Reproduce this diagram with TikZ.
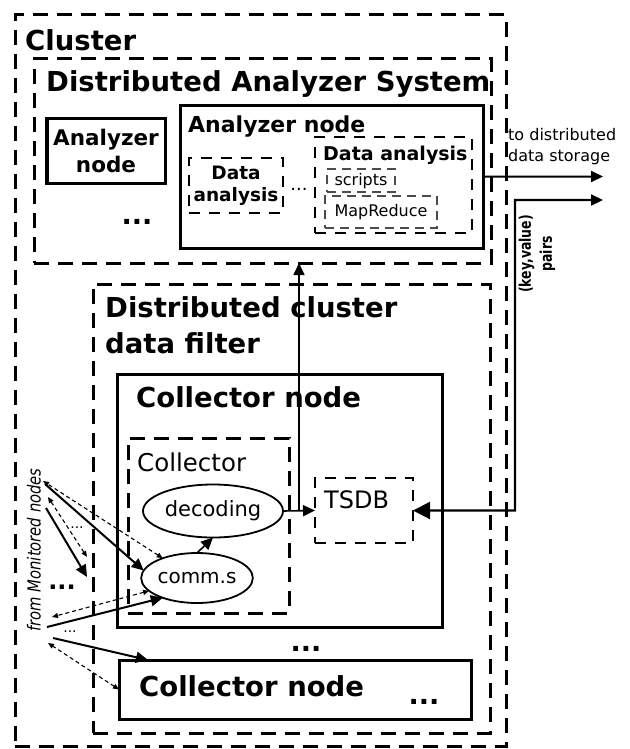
\documentclass[tikz,border=0pt]{standalone}
\usepackage{fontspec}
\setmainfont{DejaVu Sans}
\usetikzlibrary{arrows.meta,shapes.geometric}
\begin{document}
\begin{tikzpicture}[x=1bp,y=-1bp,
  box/.style={rectangle, draw, line width=3bp, inner sep=0pt, outer sep=0pt, anchor=north west},
  bigdash/.style={box, dash pattern=on 15bp off 9bp},
  middash/.style={box, line width=2.6bp, dash pattern=on 11bp off 9bp},
  thindash/.style={box, draw=black!70, line width=1.7bp, dash pattern=on 9bp off 6bp},
  oval/.style={ellipse, draw, line width=1.8bp, inner sep=0pt, outer sep=0pt},
  ttl/.style={anchor=west, inner sep=0pt, font=\fontsize{27.5bp}{36bp}\selectfont\bfseries, align=left},
  txt/.style={inner sep=0pt, font=\fontsize{16bp}{21bp}\selectfont},
  dots/.style={inner sep=0pt, font=\fontsize{27bp}{30bp}\selectfont\bfseries},
  arr/.style={line width=2bp, -{Triangle[length=12bp,width=11bp]}},
  thinarr/.style={line width=1.6bp, -{Triangle[length=12bp,width=11bp]}},
  back/.style={line width=1.1bp, dash pattern=on 4bp off 3bp, {Triangle[length=6bp,width=5bp]}-{Triangle[length=6bp,width=5bp]}},
]
\useasboundingbox (0,0) rectangle (630,749);

% Cluster
\node[bigdash, minimum width=491bp, minimum height=731bp] (cluster) at (15,15) {};
\node[ttl] (clusterT) at (25,40) {Cluster};

% Distributed Analyzer System
\node[bigdash, minimum width=457bp, minimum height=204bp] (das) at (34,59) {};
\node[ttl] (dasT) at (46,84) {Distributed Analyzer System};
\node[box, anchor=center, minimum width=118bp, minimum height=65bp, align=center,
      font=\fontsize{21.5bp}{27bp}\selectfont\bfseries] (an1) at (106,150.5) {Analyzer\\node};
\node[dots] (andots) at (137,222) {...};
\node[box, minimum width=303bp, minimum height=143bp] (ann) at (180,105) {};
\node[anchor=west, inner sep=0pt, font=\fontsize{22bp}{26bp}\selectfont\bfseries] (annT) at (188,127) {Analyzer node};
\node[middash, minimum width=94bp, minimum height=55bp] (da1) at (189,158) {};
\node[inner sep=0pt, align=center, font=\fontsize{18.5bp}{22bp}\selectfont\bfseries] (da1T) at (236,186) {Data\\analysis};
\node[txt, font=\fontsize{18bp}{21bp}\selectfont] (dadots) at (299,189) {...};
\node[middash, minimum width=157bp, minimum height=96bp] (da2) at (315,137) {};
\node[anchor=west, inner sep=0pt, font=\fontsize{19bp}{23bp}\selectfont\bfseries] (da2T) at (323,155) {Data analysis};
\node[thindash, minimum width=68bp, minimum height=23bp] (scr) at (327,169) {};
\node[txt] (scrT) at (361,181) {scripts};
\node[thindash, minimum width=112bp, minimum height=32bp] (mr) at (325,196) {};
\node[txt] (mrT) at (381,212) {MapReduce};

% outputs
\node[txt, anchor=west, align=left] (outT) at (508,147) {to distributed\\data storage};
\coordinate (out1) at (603,176.5);
\coordinate (out2) at (603,200);
\coordinate (kvc) at (515,200);
\draw[arr] (ann.east) -- (out1);
\node[rotate=90, inner sep=0pt, align=center, font=\fontsize{16bp}{21bp}\selectfont\bfseries] (kvT) at (537,254)
  {\scalebox{0.78}[1]{(key,value)}\\\scalebox{0.78}[1]{pairs}};

% Distributed cluster data filter
\node[bigdash, minimum width=397bp, minimum height=449bp] (dcdf) at (93,284) {};
\node[ttl] (dcdfT) at (105,325) {Distributed cluster\\data filter};
\node[box, minimum width=325bp, minimum height=253bp] (c1) at (117,374) {};
\node[ttl] (c1T) at (136,397) {Collector node};
\node[bigdash, minimum width=161bp, minimum height=175bp] (cd) at (128,438) {};
\node[anchor=west, inner sep=0pt, font=\fontsize{24.5bp}{28bp}\selectfont] (cdT) at (137,462) {Collector};
\node[oval, minimum width=140bp, minimum height=53bp, font=\fontsize{21bp}{25bp}\selectfont] (dec) at (213,511) {decoding};
\node[oval, minimum width=102bp, minimum height=50bp, font=\fontsize{20bp}{24bp}\selectfont] (comm) at (197,578) {comm.s};
\node[middash, minimum width=98bp, minimum height=65bp] (tsdb) at (315,478) {};
\node[anchor=west, inner sep=0pt, font=\fontsize{24bp}{28bp}\selectfont] (tsdbT) at (324,500) {TSDB};
\node[dots] (cdots) at (306,649) {...};
\node[box, minimum width=352bp, minimum height=59bp] (c2) at (119,660) {};
\node[ttl] (c2T) at (139,686) {Collector node};
\node[dots] (c2dots) at (424,702) {...};

% internal connectors
\draw[thinarr] (comm.north) -- (dec.south);
\draw[thinarr] (dec.east) -- (tsdb.west);
\coordinate (br) at (299,511);
\draw[thinarr] (br) -- (das.south -| br);
\coordinate (kvb) at (515,510.5);
\draw[line width=2.2bp, {Triangle[length=17bp,width=17bp]}-{Triangle[length=12bp,width=11bp]}]
  (tsdb.east) -- (kvb) -- (kvc) -- (out2);

% monitored nodes
\node[rotate=90, inner sep=0pt, font=\fontsize{18bp}{21bp}\selectfont\itshape] (mon) at (34,550)
  {\scalebox{0.82}[1]{from Monitored nodes}};
\coordinate (m1) at (45,484);
\coordinate (m2) at (43,481);
\coordinate (m3) at (48,497);
\coordinate (m3b) at (87,557);
\coordinate (m4) at (46,508);
\coordinate (m4b) at (87,577);
\coordinate (m5) at (47,627);
\coordinate (m6) at (52,617);
\coordinate (m7) at (53,638);
\coordinate (m8) at (48,643);
\draw[arr] (m1) -- (comm.172);
\draw[back] (comm.150) -- (m2);
\draw[back] (m3b) -- (m3);
\draw[arr] (m4) -- (m4b);
\draw[arr] (m5) -- (comm.210);
\draw[back] (comm.195) -- (m6);
\draw[arr] (m7) -- ([xshift=29bp]c2.north west);
\draw[back] (c2.west) -- (m8);
\node[txt, font=\fontsize{14bp}{16bp}\selectfont] (sd1) at (77,528) {...};
\node[txt, font=\fontsize{14bp}{16bp}\selectfont] (sd2) at (70,632) {...};
\node[dots, font=\fontsize{24bp}{28bp}\selectfont\bfseries] (ldots) at (62,587) {...};
\end{tikzpicture}
\end{document}
